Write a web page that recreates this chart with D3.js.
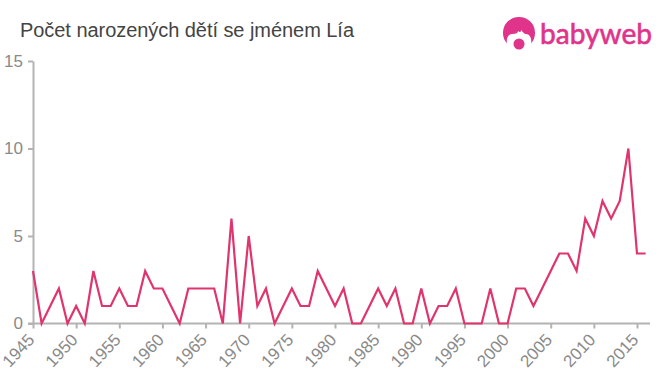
<!DOCTYPE html>
<html>
<head>
<meta charset="utf-8">
<script src="https://cdn.jsdelivr.net/npm/d3@7"></script>
<style>
  html, body { margin: 0; padding: 0; background: #fff; }
  text { font-family: "Liberation Sans", Arial, sans-serif; }
</style>
</head>
<body>
<svg id="chart" width="660" height="375"></svg>
<script>
const years = d3.range(1945, 2017)
const counts = [3,0,1,2,0,1,0,3,1,1,2,1,1,3,2,2,1,0,2,2,2,2,0,6,0,5,1,2,0,1,
                2,1,1,3,2,1,2,0,0,1,2,1,2,0,0,2,0,1,1,2,0,0,0,2,0,0,2,2,1,2,
                3,4,4,3,6,5,7,6,7,10,4,4]
const xTicks = d3.range(1945, 2016, 5)
const yTicks = [0, 5, 10, 15]
const titleText = 'Počet narozených dětí se jménem Lía'

const svg = d3.select('#chart')

const x = d3.scaleLinear()
            .domain([1945, 2015])
            .range([33, 637])
const y = d3.scaleLinear()
            .domain([0, 15])
            .range([323.5, 61])

const axisColor = '#b3b3b3'
const labelColor = '#8a8a8a'

svg.append('text')
   .attr('x', 20)
   .attr('y', 37)
   .attr('font-size', 20)
   .attr('textLength', 334)
   .attr('fill', '#444444')
   .text(titleText)

/* y axis */
const yAxis = svg.append('g')
  .attr('transform', 'translate(33,0)')
  .call(d3.axisLeft(y).tickValues(yTicks).tickSize(5).tickPadding(5).tickSizeOuter(0))
yAxis.select('.domain').attr('stroke', axisColor).attr('stroke-width', 2)
yAxis.selectAll('.tick line').attr('stroke', axisColor).attr('stroke-width', 2)
yAxis.selectAll('.tick text')
  .attr('fill', labelColor)
  .attr('font-size', 17)
  .attr('font-family', '"Liberation Sans", Arial, sans-serif')

/* x axis */
const xAxis = svg.append('g')
  .attr('transform', 'translate(0,323.5)')
  .call(d3.axisBottom(x).tickValues(xTicks).tickFormat(d3.format('d')).tickSize(5).tickSizeOuter(0))
xAxis.select('.domain')
  .attr('d', 'M28,0H650')
  .attr('stroke', axisColor)
  .attr('stroke-width', 2)
xAxis.selectAll('.tick line').attr('stroke', axisColor).attr('stroke-width', 2)
xAxis.selectAll('.tick text')
  .attr('fill', labelColor)
  .attr('font-size', 17)
  .attr('font-family', '"Liberation Sans", Arial, sans-serif')
  .attr('text-anchor', 'end')
  .attr('dy', 0)
  .attr('y', 0)
  .attr('transform', 'translate(2,17) rotate(-47)')

/* series */
const line = d3.line()
  .x((d, i) => x(years[i]))
  .y(d => y(d))

svg.append('path')
   .datum(counts)
   .attr('d', line)
   .attr('fill', 'none')
   .attr('stroke', '#e0356c')
   .attr('stroke-width', 2.2)
   .attr('stroke-linejoin', 'miter')

/* logo */
const logoColor = '#e0338a'
const logo = svg.append('g').attr('transform', 'translate(519,33)')
logo.append('path')
    .attr('d', 'M-12,10.5 A16,16 0 1 1 12,10.5 C13,6 11,1 7,1 C5,1 4,-1 2,-3 C2,-1 1,0 -1,-2 C-1,0 -3,1 -7,1 C-11,1 -13,6 -12,10.5 Z')
    .attr('fill', logoColor)
logo.append('circle').attr('cx', 0).attr('cy', 11).attr('r', 5.5).attr('fill', logoColor)
svg.append('text')
   .attr('x', 540)
   .attr('y', 44)
   .attr('font-size', 29)
   .attr('textLength', 112)
   .attr('lengthAdjust', 'spacingAndGlyphs')
   .attr('fill', logoColor)
   .attr('stroke', logoColor)
   .attr('stroke-width', 0.6)
   .style('font-family', '"Lato", "Open Sans", sans-serif')
   .text('babyweb')
</script>
</body>
</html>
